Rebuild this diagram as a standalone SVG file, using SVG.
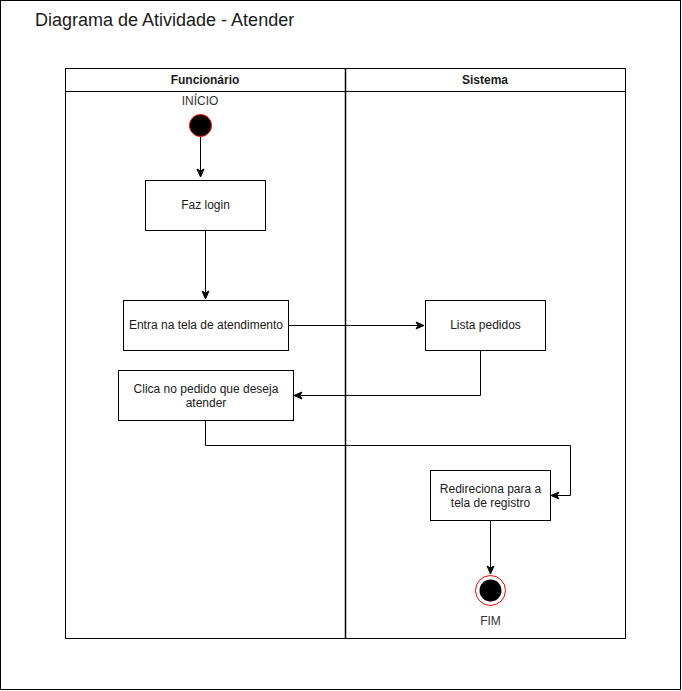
<svg xmlns="http://www.w3.org/2000/svg" width="682" height="691" viewBox="0 0 682 691">
<style>
.t{font-family:"Liberation Sans",Arial,sans-serif;font-size:12px;fill:#1a1a1a;text-anchor:middle}
.h{font-family:"Liberation Sans",Arial,sans-serif;font-size:12px;font-weight:bold;fill:#1a1a1a;text-anchor:middle}
.lbl{font-family:"Liberation Sans",Arial,sans-serif;font-size:12px;fill:#333;text-anchor:middle}
.box{fill:#fff;stroke:#000;stroke-width:1}
.edge{fill:none;stroke:#000;stroke-width:1}
</style>
<defs>
<marker id="arr" markerUnits="userSpaceOnUse" markerWidth="10" markerHeight="10" viewBox="0 0 10 10" refX="9" refY="5" orient="auto">
<path d="M1,1.5 L9,5 L1,8.5 L3,5 Z" fill="#000" stroke="#000" stroke-width="1"/>
</marker>
</defs>
<rect x="0.5" y="0.5" width="680" height="689" fill="#fff" stroke="#000"/>
<text x="35" y="26" font-family="'Liberation Sans',Arial,sans-serif" font-size="18" fill="#1a1a1a">Diagrama de Atividade - Atender</text>
<g id="pool">
<rect x="65.5" y="68.5" width="560" height="570" fill="#fff" stroke="#000"/>
<line x1="65.5" y1="91.5" x2="625.5" y2="91.5" stroke="#000"/>
<line x1="345.5" y1="68.5" x2="345.5" y2="638.5" stroke="#000" stroke-width="1.5"/>
</g>
<g id="lane-funcionario"><text class="h" x="205" y="84">Funcionário</text></g>
<g id="lane-sistema"><text class="h" x="485" y="84">Sistema</text></g>
<g id="connectors">
<path class="edge" d="M200.5,137 L200.5,177" marker-end="url(#arr)"/>
<path class="edge" d="M205.5,230 L205.5,299" marker-end="url(#arr)"/>
<path class="edge" d="M288,325.5 L424,325.5" marker-end="url(#arr)"/>
<path class="edge" d="M480.5,350 L480.5,395.5 L294,395.5" marker-end="url(#arr)"/>
<path class="edge" d="M205.5,420 L205.5,445.5 L570.5,445.5 L570.5,495.5 L551,495.5" marker-end="url(#arr)"/>
<path class="edge" d="M490.5,520 L490.5,574" marker-end="url(#arr)"/>
</g>
<g id="inicio">
<circle cx="200.5" cy="125.5" r="11" fill="#000" stroke="#ff0000" stroke-width="1"/>
<text class="lbl" x="200" y="105">INÍCIO</text>
</g>
<g id="faz-login">
<rect class="box" x="145.5" y="180.5" width="120" height="50"/>
<text class="t" x="205.5" y="209">Faz login</text>
</g>
<g id="entra-tela">
<rect class="box" x="123.5" y="300.5" width="165" height="50"/>
<text class="t" x="206" y="329">Entra na tela de atendimento</text>
</g>
<g id="lista-pedidos">
<rect class="box" x="425.5" y="300.5" width="120" height="50"/>
<text class="t" x="485.5" y="329">Lista pedidos</text>
</g>
<g id="clica-pedido">
<rect class="box" x="118.5" y="370.5" width="175" height="50"/>
<text class="t" x="206" y="393">Clica no pedido que deseja</text>
<text class="t" x="206" y="407">atender</text>
</g>
<g id="redireciona">
<rect class="box" x="430.5" y="470.5" width="120" height="50"/>
<text class="t" x="490.5" y="493">Redireciona para a</text>
<text class="t" x="490.5" y="507">tela de registro</text>
</g>
<g id="fim">
<circle cx="490.5" cy="590.5" r="15" fill="#fff" stroke="#ff0000" stroke-width="1"/>
<circle cx="490.5" cy="590.5" r="11" fill="#000"/>
<text class="lbl" x="490.5" y="625">FIM</text>
</g>
</svg>
